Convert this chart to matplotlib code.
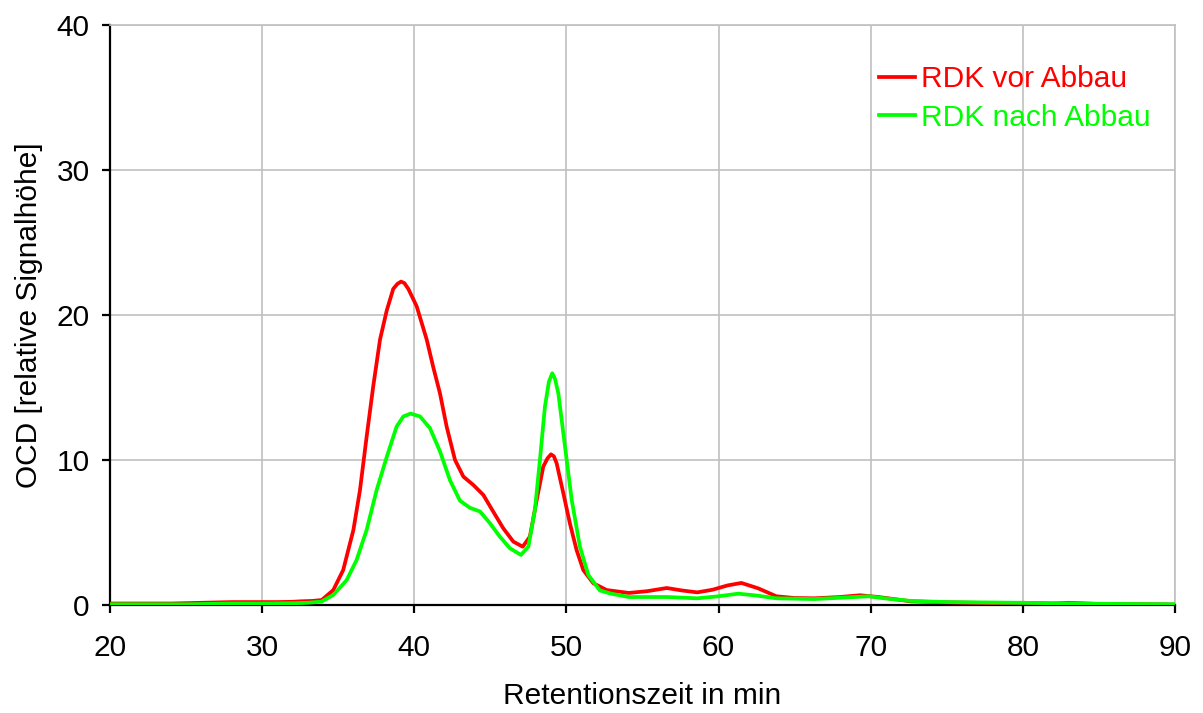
import numpy as np
import matplotlib.pyplot as plt

plt.rcParams["font.family"] = ["Liberation Sans", "DejaVu Sans"]

# red curve: RDK vor Abbau
x_vor = [20, 22, 24, 26, 28, 30, 31, 32, 32.5, 33.3, 33.92, 34.68, 35.33, 36.0,
         36.43, 36.87, 37.3, 37.75, 38.19, 38.62, 38.9, 39.13, 39.35, 39.61,
         40.16, 40.82, 41.25, 41.69, 42.13, 42.68, 43.23, 43.88, 44.54, 45.19,
         45.85, 46.51, 47.13, 47.6, 48.05, 48.48, 48.75, 48.99, 49.18, 49.36,
         49.8, 50.23, 50.67, 51.11, 51.77, 52.65, 54.1, 55.3, 56.6, 57.6, 58.6,
         59.6, 60.6, 61.5, 62.6, 63.8, 65, 66.3, 68, 69.3, 70.5, 72.65, 75, 78,
         80.1, 82, 83, 85, 88, 90]
y_vor = [0.1, 0.1, 0.1, 0.15, 0.2, 0.2, 0.2, 0.22, 0.25, 0.28, 0.34, 1.03, 2.41,
         5.17, 7.9, 11.6, 15.05, 18.3, 20.3, 21.8, 22.15, 22.3, 22.2, 21.8, 20.6,
         18.3, 16.4, 14.6, 12.3, 10.0, 8.85, 8.28, 7.59, 6.44, 5.29, 4.37, 4.02,
         4.71, 7.24, 9.54, 10.1, 10.39, 10.25, 9.77, 7.7, 5.63, 3.79, 2.41, 1.5,
         1.03, 0.83, 0.95, 1.17, 1.0, 0.87, 1.05, 1.35, 1.52, 1.15, 0.6, 0.48,
         0.46, 0.55, 0.67, 0.55, 0.25, 0.18, 0.13, 0.15, 0.1, 0.15, 0.07, 0.05,
         0.03]

# green curve: RDK nach Abbau
x_nach = [20, 25, 28, 30, 32, 33, 33.9, 34.68, 35.56, 36.21, 36.87, 37.53, 38.19,
          38.84, 39.28, 39.76, 40.38, 41.03, 41.69, 42.35, 43.0, 43.66, 44.32,
          44.98, 45.63, 46.29, 47.01, 47.5, 47.93, 48.26, 48.59, 48.85, 49.07,
          49.25, 49.47, 49.91, 50.35, 50.89, 51.44, 52.2, 52.86, 54.1, 55.5,
          56.6, 58.6, 60, 61.3, 62.5, 63.8, 66.3, 68, 69.9, 71, 72.65, 75, 80,
          85, 90]
y_nach = [0.05, 0.05, 0.1, 0.1, 0.12, 0.15, 0.23, 0.69, 1.72, 3.1, 5.17, 7.93,
          10.2, 12.3, 13.0, 13.2, 13.0, 12.2, 10.6, 8.6, 7.2, 6.7, 6.45, 5.63,
          4.71, 3.91, 3.45, 4.02, 6.55, 10.0, 13.68, 15.4, 15.98, 15.6, 14.6,
          10.92, 7.24, 4.02, 2.07, 1.0, 0.8, 0.55, 0.55, 0.55, 0.46, 0.6, 0.78,
          0.65, 0.46, 0.41, 0.5, 0.6, 0.45, 0.28, 0.2, 0.15, 0.08, 0.05]

fs = 21.5

fig = plt.figure(figsize=(12.03, 7.13), dpi=100)
ax = fig.add_axes([0.0914, 0.1515, 0.8853, 0.8135])

ax.plot(x_vor, y_vor, color="#ff0000", lw=2.7, label="RDK vor Abbau",
        solid_joinstyle="round", zorder=3)
ax.plot(x_nach, y_nach, color="#00ff00", lw=2.7, label="RDK nach Abbau",
        solid_joinstyle="round", zorder=3)

ax.set_xlim(20, 90)
ax.set_ylim(0, 40)
ax.set_xticks(np.arange(20, 91, 10))
ax.set_yticks(np.arange(0, 41, 10))
ax.grid(True, color="#c0c0c0", lw=1.2)
ax.set_axisbelow(True)

for s in ["top", "right"]:
    ax.spines[s].set_color("#c0c0c0")
    ax.spines[s].set_linewidth(1.2)
for s in ["left", "bottom"]:
    ax.spines[s].set_color("black")
    ax.spines[s].set_linewidth(1.6)

ax.tick_params(axis="both", direction="out", length=6, width=1.6, labelsize=fs,
               colors="black")
ax.tick_params(axis="x", pad=15)
ax.tick_params(axis="y", pad=8.5)

ax.set_xlabel("Retentionszeit in min", fontsize=fs, labelpad=14)
ax.set_ylabel("OCD [relative Signalhöhe]", fontsize=fs, labelpad=10)

ax.legend(loc="upper right", bbox_to_anchor=(1.002, 0.977), frameon=False,
          fontsize=fs, handlelength=1.2, handletextpad=0.2,
          labelspacing=0.35, labelcolor="linecolor")

fig.savefig("out.png", dpi=100)
